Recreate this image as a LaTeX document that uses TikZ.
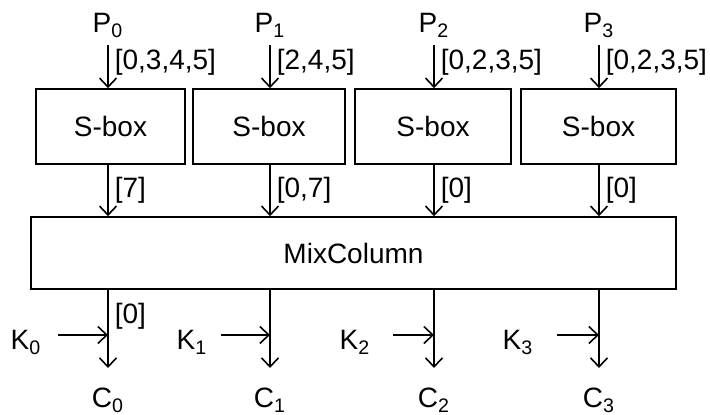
\documentclass[tikz,border=0pt]{standalone}
\usepackage{fontspec}
\setmainfont{Liberation Sans}
\usetikzlibrary{arrows.meta}
\begin{document}
\begin{tikzpicture}[
        > = {Straight Barb[length=4.5pt, width=8.5pt]},
        x = 0.5pt, y = -0.5pt,
        line width = 0.8pt,
        font = \fontsize{14}{17}\selectfont,
        sbox/.style = {draw, minimum height = 37.5pt, inner sep = 0pt},
        lbl/.style = {right, inner sep = 1pt, xshift = 2pt}
    ]
        \useasboundingbox (0,0) rectangle (710,415);
        \node[draw, minimum width = 322.5pt, minimum height = 36pt] (mix) at (353.5,253) {MixColumn};
        \foreach \i/\bx/\bw/\ax/\kx/\ka/\inp/\outp in {
            0/110.5/74.5/108/26/58/{[0,3,4,5]}/{[7]},
            1/269/76/270/192/221/{[2,4,5]}/{[0,7]},
            2/433/78/434/355/393/{[0,2,3,5]}/{[0]},
            3/598.5/77.5/599/518/557/{[0,2,3,5]}/{[0]}
        }{
            \node[sbox, minimum width = \bw pt] (sb\i) at (\bx,126.5) {S-box};
            \node[anchor = base] (p\i) at (\ax,33) {P\textsubscript{\i}};
            \node[anchor = base] (c\i) at (\ax,408) {C\textsubscript{\i}};
            \node[anchor = base] (k\i) at (\kx,350) {K\textsubscript{\i}};
            \coordinate (in\i) at (\ax,45);
            \coordinate (out\i) at (\ax,368);
            \coordinate (ks\i) at (\ka,335);
            \draw[->] (in\i) -- (in\i |- sb\i.north) node[pos = 0.4, lbl] {\inp};
            \draw[->] (sb\i.south -| in\i) -- (in\i |- mix.north) node[midway, lbl] {\outp};
            \draw[->] (in\i |- mix.south) -- (out\i);
            \draw[->] (ks\i) -- (ks\i -| in\i);
        }
        \node[lbl] (lb0) at (108,316) {[0]};
\end{tikzpicture}
\end{document}
